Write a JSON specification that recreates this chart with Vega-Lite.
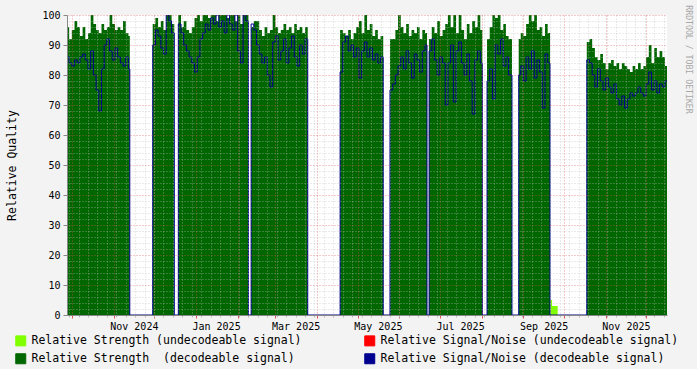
{
  "$schema": "https://vega.github.io/schema/vega-lite/v6.json",
  "width": 600,
  "height": 300,
  "autosize": {"type": "none"},
  "padding": {"left": 67, "top": 15, "right": 30, "bottom": 54},
  "background": "#f3f3f3",
  "config": {"view": {"stroke": null, "fill": "white"}},
  "datasets": {
    "q": [
      {"d":"2024-09-27","s":96,"n":86},{"d":"2024-09-29","s":92,"n":84},{"d":"2024-10-01","s":95,"n":83},{"d":"2024-10-03","s":98,"n":85},
      {"d":"2024-10-05","s":96,"n":84},{"d":"2024-10-07","s":93,"n":86},{"d":"2024-10-09","s":96,"n":87},{"d":"2024-10-11","s":92,"n":85},
      {"d":"2024-10-13","s":94,"n":82},{"d":"2024-10-15","s":100,"n":88},{"d":"2024-10-17","s":97,"n":80},{"d":"2024-10-19","s":95,"n":75},
      {"d":"2024-10-21","s":94,"n":68},{"d":"2024-10-23","s":97,"n":82},{"d":"2024-10-25","s":95,"n":90},{"d":"2024-10-27","s":96,"n":92},
      {"d":"2024-10-29","s":100,"n":88},{"d":"2024-10-31","s":97,"n":85},{"d":"2024-11-02","s":95,"n":89},{"d":"2024-11-04","s":96,"n":86},
      {"d":"2024-11-06","s":95,"n":84},{"d":"2024-11-08","s":98,"n":83},{"d":"2024-11-10","s":94,"n":86},{"d":"2024-11-12","s":93,"n":82},
      {"d":"2024-11-13","s":0,"n":0},
      {"d":"2024-11-30","s":97,"n":90},{"d":"2024-12-02","s":99,"n":95},{"d":"2024-12-04","s":96,"n":93},{"d":"2024-12-06","s":98,"n":89},
      {"d":"2024-12-08","s":95,"n":87},{"d":"2024-12-10","s":100,"n":100},{"d":"2024-12-12","s":100,"n":98},{"d":"2024-12-14","s":97,"n":94},
      {"d":"2024-12-16","s":0,"n":0},
      {"d":"2024-12-19","s":100,"n":97},{"d":"2024-12-21","s":96,"n":94},{"d":"2024-12-23","s":98,"n":90},{"d":"2024-12-25","s":95,"n":88},
      {"d":"2024-12-27","s":94,"n":86},{"d":"2024-12-29","s":96,"n":84},{"d":"2024-12-31","s":99,"n":81},{"d":"2025-01-02","s":100,"n":86},
      {"d":"2025-01-04","s":98,"n":92},{"d":"2025-01-06","s":100,"n":94},{"d":"2025-01-08","s":100,"n":97},{"d":"2025-01-10","s":99,"n":95},
      {"d":"2025-01-12","s":100,"n":99},{"d":"2025-01-14","s":100,"n":97},{"d":"2025-01-16","s":98,"n":100},{"d":"2025-01-18","s":100,"n":96},
      {"d":"2025-01-20","s":100,"n":98},{"d":"2025-01-22","s":100,"n":94},{"d":"2025-01-24","s":99,"n":100},{"d":"2025-01-26","s":100,"n":97},
      {"d":"2025-01-28","s":100,"n":95},{"d":"2025-01-30","s":98,"n":100},{"d":"2025-02-01","s":100,"n":88},{"d":"2025-02-03","s":97,"n":84},
      {"d":"2025-02-05","s":100,"n":100},{"d":"2025-02-07","s":100,"n":98},
      {"d":"2025-02-09","s":0,"n":0},
      {"d":"2025-02-11","s":96,"n":97},{"d":"2025-02-13","s":98,"n":95},{"d":"2025-02-15","s":98,"n":90},{"d":"2025-02-17","s":95,"n":87},
      {"d":"2025-02-19","s":93,"n":84},{"d":"2025-02-21","s":96,"n":86},{"d":"2025-02-23","s":94,"n":80},{"d":"2025-02-25","s":95,"n":76},
      {"d":"2025-02-27","s":100,"n":91},{"d":"2025-03-01","s":96,"n":93},{"d":"2025-03-03","s":94,"n":85},{"d":"2025-03-05","s":95,"n":88},
      {"d":"2025-03-07","s":97,"n":92},{"d":"2025-03-09","s":95,"n":84},{"d":"2025-03-11","s":96,"n":89},{"d":"2025-03-13","s":94,"n":93},
      {"d":"2025-03-15","s":97,"n":86},{"d":"2025-03-17","s":95,"n":83},{"d":"2025-03-19","s":96,"n":90},{"d":"2025-03-21","s":94,"n":87},
      {"d":"2025-03-23","s":96,"n":92},
      {"d":"2025-03-25","s":0,"n":0},
      {"d":"2025-04-18","s":95,"n":81},{"d":"2025-04-20","s":94,"n":91},{"d":"2025-04-22","s":93,"n":93},{"d":"2025-04-24","s":95,"n":88},
      {"d":"2025-04-26","s":92,"n":90},{"d":"2025-04-28","s":94,"n":86},{"d":"2025-04-30","s":96,"n":89},{"d":"2025-05-02","s":98,"n":79},
      {"d":"2025-05-04","s":94,"n":88},{"d":"2025-05-06","s":100,"n":91},{"d":"2025-05-08","s":95,"n":86},{"d":"2025-05-10","s":97,"n":89},
      {"d":"2025-05-12","s":93,"n":85},{"d":"2025-05-14","s":95,"n":87},{"d":"2025-05-16","s":92,"n":84},{"d":"2025-05-18","s":93,"n":86},
      {"d":"2025-05-20","s":0,"n":0},
      {"d":"2025-05-25","s":92,"n":75},{"d":"2025-05-27","s":92,"n":77},{"d":"2025-05-29","s":95,"n":80},{"d":"2025-05-31","s":100,"n":83},
      {"d":"2025-06-02","s":96,"n":86},{"d":"2025-06-04","s":94,"n":82},{"d":"2025-06-06","s":97,"n":88},{"d":"2025-06-08","s":93,"n":84},
      {"d":"2025-06-10","s":95,"n":79},{"d":"2025-06-12","s":94,"n":87},{"d":"2025-06-14","s":96,"n":85},{"d":"2025-06-16","s":92,"n":81},
      {"d":"2025-06-18","s":95,"n":88},{"d":"2025-06-20","s":94,"n":90},
      {"d":"2025-06-21T12:00:00Z","s":0,"n":0},
      {"d":"2025-06-23","s":92,"n":88},{"d":"2025-06-25","s":96,"n":92},{"d":"2025-06-27","s":94,"n":85},{"d":"2025-06-29","s":98,"n":80},
      {"d":"2025-07-01","s":93,"n":86},{"d":"2025-07-03","s":95,"n":84},{"d":"2025-07-05","s":97,"n":70},{"d":"2025-07-07","s":100,"n":84},
      {"d":"2025-07-09","s":96,"n":90},{"d":"2025-07-11","s":100,"n":71},{"d":"2025-07-13","s":94,"n":88},{"d":"2025-07-15","s":100,"n":91},
      {"d":"2025-07-17","s":95,"n":84},{"d":"2025-07-19","s":92,"n":80},{"d":"2025-07-21","s":97,"n":87},{"d":"2025-07-23","s":94,"n":78},
      {"d":"2025-07-25","s":98,"n":67},{"d":"2025-07-27","s":96,"n":85},{"d":"2025-07-29","s":100,"n":88},{"d":"2025-07-31","s":95,"n":84},
      {"d":"2025-08-01T12:00:00Z","s":0,"n":0},
      {"d":"2025-08-05","s":92,"n":78},{"d":"2025-08-07","s":96,"n":82},{"d":"2025-08-09","s":100,"n":72},{"d":"2025-08-11","s":99,"n":90},
      {"d":"2025-08-13","s":100,"n":87},{"d":"2025-08-15","s":95,"n":92},{"d":"2025-08-17","s":97,"n":83},{"d":"2025-08-19","s":93,"n":86},
      {"d":"2025-08-21","s":92,"n":80},
      {"d":"2025-08-23T12:00:00Z","s":0,"n":0},
      {"d":"2025-08-28T12:00:00Z","s":92,"n":80},{"d":"2025-08-30","s":94,"n":83},{"d":"2025-09-01","s":93,"n":78},{"d":"2025-09-03","s":97,"n":86},
      {"d":"2025-09-05","s":100,"n":82},{"d":"2025-09-07","s":98,"n":88},{"d":"2025-09-09","s":100,"n":79},{"d":"2025-09-11","s":95,"n":85},
      {"d":"2025-09-13","s":96,"n":81},{"d":"2025-09-15","s":93,"n":69},{"d":"2025-09-17","s":97,"n":87},{"d":"2025-09-19","s":94,"n":84},
      {"d":"2025-09-20T18:00:00Z","s":0,"n":0},
      {"d":"2025-10-18","s":91,"n":85},{"d":"2025-10-20","s":92,"n":84},{"d":"2025-10-22","s":89,"n":80},{"d":"2025-10-24","s":86,"n":76},
      {"d":"2025-10-26","s":85,"n":82},{"d":"2025-10-28","s":87,"n":78},{"d":"2025-10-30","s":84,"n":75},{"d":"2025-11-01","s":82,"n":79},
      {"d":"2025-11-03","s":84,"n":76},{"d":"2025-11-05","s":85,"n":74},{"d":"2025-11-07","s":83,"n":77},{"d":"2025-11-09","s":84,"n":72},
      {"d":"2025-11-11","s":82,"n":70},{"d":"2025-11-13","s":84,"n":73},{"d":"2025-11-15","s":83,"n":69},{"d":"2025-11-17","s":82,"n":72},
      {"d":"2025-11-19","s":81,"n":74},{"d":"2025-11-21","s":83,"n":73},{"d":"2025-11-23","s":82,"n":74},{"d":"2025-11-25","s":84,"n":76},
      {"d":"2025-11-27","s":82,"n":74},{"d":"2025-11-29","s":83,"n":73},{"d":"2025-12-01","s":86,"n":77},{"d":"2025-12-03","s":90,"n":81},
      {"d":"2025-12-05","s":84,"n":75},{"d":"2025-12-07","s":89,"n":78},{"d":"2025-12-09","s":86,"n":74},{"d":"2025-12-11","s":88,"n":77},
      {"d":"2025-12-13","s":86,"n":76},{"d":"2025-12-15","s":83,"n":78},{"d":"2025-12-17","s":83,"n":78}
    ],
    "u": [
      {"d":"2025-09-21","u":5},{"d":"2025-09-22T06:00:00Z","u":3},{"d":"2025-09-26T10:00:00Z","u":0}
    ]
  },
  "resolve": {"axis": {"x": "independent", "y": "independent"}},
  "layer": [
    {
      "data": {"name": "q"},
      "mark": {"type": "area", "interpolate": "step-after", "clip": true},
      "encoding": {
        "x": {
          "field": "d", "type": "temporal",
          "scale": {"type": "utc", "domain": [{"year": 2024, "month": 9, "date": 27, "hours": 10, "utc": true}, {"year": 2025, "month": 12, "date": 16, "hours": 12, "utc": true}]},
          "axis": {
            "values": [
              {"year": 2024, "month": 11, "date": 16, "utc": true},
              {"year": 2025, "month": 1, "date": 16, "utc": true},
              {"year": 2025, "month": 3, "date": 16, "utc": true},
              {"year": 2025, "month": 5, "date": 16, "utc": true},
              {"year": 2025, "month": 7, "date": 16, "utc": true},
              {"year": 2025, "month": 9, "date": 16, "utc": true},
              {"year": 2025, "month": 11, "date": 16, "utc": true}
            ],
            "labelExpr": "utcFormat(datum.value, '%b %Y')",
            "grid": false, "ticks": false, "domain": true, "domainColor": "#888888",
            "labelFont": "DejaVu Sans Mono", "labelFontSize": 10, "labelColor": "#000000",
            "labelPadding": 6, "labelFlush": false, "labelOverlap": false, "title": null, "zindex": 2
          }
        },
        "y": {
          "field": "s", "type": "quantitative",
          "scale": {"domain": [0, 100], "nice": false},
          "axis": {
            "values": [0, 10, 20, 30, 40, 50, 60, 70, 80, 90, 100],
            "grid": true, "gridColor": "#e05050", "gridOpacity": 0.6, "gridDash": [1, 2],
            "tickSize": 4, "tickColor": "#888888", "domainColor": "#888888",
            "labelFont": "DejaVu Sans Mono", "labelFontSize": 10, "labelColor": "#000000", "labelPadding": 3, "labelFlush": false,
            "title": "Relative Quality", "titleFont": "DejaVu Sans Mono", "titleFontSize": 11.5, "titleFontWeight": "normal",
            "titleColor": "#000000", "titleX": -55, "titleY": 150, "titleAngle": -90, "titleAlign": "center", "titleBaseline": "middle",
            "zindex": 1
          }
        },
        "color": {
          "datum": "Relative Strength\u00a0 (decodeable signal)",
          "scale": {
            "domain": ["Relative Strength (undecodeable signal)", "Relative Strength\u00a0 (decodeable signal)", "Relative Signal/Noise (undecodeable signal)", "Relative Signal/Noise (decodeable signal)"],
            "range": ["#80ff00", "#006600", "#ff0000", "#000090"]
          },
          "legend": {
            "orient": "none", "legendX": -52, "legendY": 320, "columns": 2, "columnPadding": 60, "rowPadding": 3,
            "symbolType": "square", "symbolSize": 100, "symbolStrokeColor": "#000000", "symbolStrokeWidth": 1, "symbolOpacity": 1,
            "labelFont": "DejaVu Sans Mono", "labelFontSize": 11.5, "labelColor": "#000000", "labelOffset": 5, "labelLimit": 0,
            "title": null,
            "encode": {"symbols": {"update": {"fill": {"scale": "color", "field": "value"}, "stroke": {"value": "#000000"}, "strokeWidth": {"value": 1}, "opacity": {"value": 1}}}}
          }
        }
      }
    },
    {
      "data": {"name": "u"},
      "mark": {"type": "area", "interpolate": "step-after", "clip": true},
      "encoding": {
        "x": {
          "field": "d", "type": "temporal",
          "axis": {
            "orient": "bottom", "tickCount": {"interval": "month", "step": 1},
            "labels": false, "domain": false, "ticks": true, "tickColor": "#e05050", "tickSize": 3,
            "grid": true, "gridColor": "#e05050", "gridOpacity": 0.6, "gridDash": [1, 2], "title": null, "zindex": 1
          }
        },
        "y": {
          "field": "u", "type": "quantitative",
          "axis": {
            "orient": "left",
            "values": [2,4,6,8,12,14,16,18,22,24,26,28,32,34,36,38,42,44,46,48,52,54,56,58,62,64,66,68,72,74,76,78,82,84,86,88,92,94,96,98],
            "labels": false, "ticks": false, "domain": false,
            "grid": true, "gridColor": "#bababa", "gridOpacity": 0.6, "gridDash": [1, 2], "title": null, "zindex": 1
          }
        },
        "color": {"datum": "Relative Strength (undecodeable signal)"}
      }
    },
    {
      "data": {"name": "q"},
      "mark": {"type": "line", "interpolate": "step-after", "strokeWidth": 1, "clip": true},
      "encoding": {
        "x": {
          "field": "d", "type": "temporal",
          "axis": {
            "orient": "bottom", "tickCount": {"interval": "week", "step": 1},
            "labels": false, "domain": false, "ticks": true, "tickColor": "#bbbbbb", "tickSize": 2,
            "grid": true, "gridColor": "#bababa", "gridOpacity": 0.6, "gridDash": [1, 2], "title": null, "zindex": 1
          }
        },
        "y": {
          "field": "n", "type": "quantitative",
          "axis": {
            "orient": "right", "labels": false, "ticks": false, "domain": false, "grid": false,
            "title": "RRDTOOL / TOBI OETIKER", "titleAngle": 90, "titleX": 20.5, "titleY": 44,
            "titleAlign": "center", "titleBaseline": "middle", "titleFont": "DejaVu Sans Mono", "titleFontSize": 8.2,
            "titleFontWeight": "normal", "titleColor": "#a8a8a8"
          }
        },
        "color": {"datum": "Relative Signal/Noise (decodeable signal)"}
      }
    }
  ]
}
